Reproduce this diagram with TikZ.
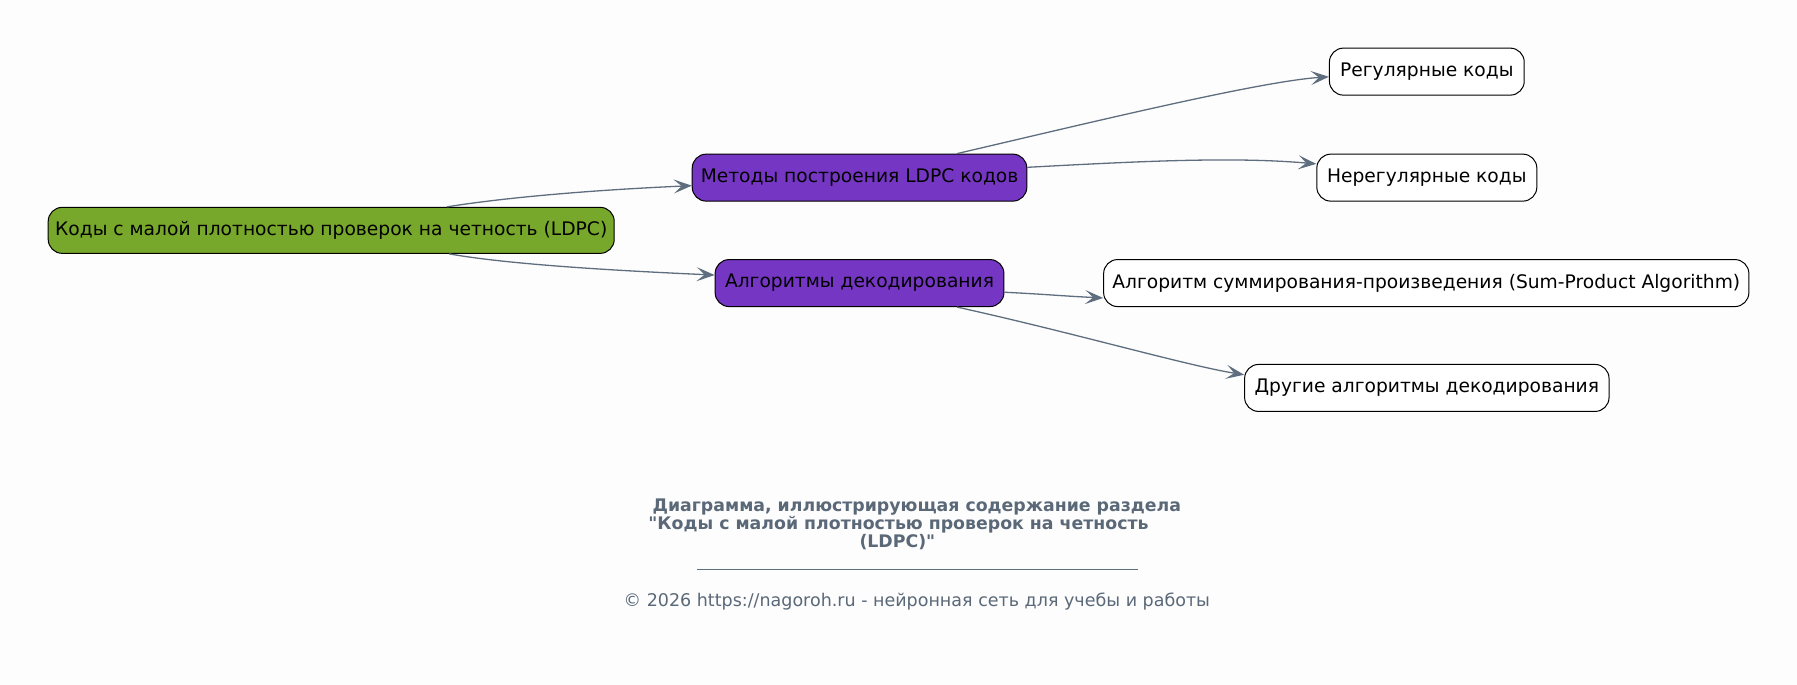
\documentclass[tikz,border=0pt]{standalone}
\usepackage{fontspec}
\setmainfont{DejaVu Sans}
\newfontfamily\capfont{DejaVu Sans}
\usetikzlibrary{arrows.meta,calc}
\definecolor{bgc}{HTML}{FDFDFD}
\definecolor{greenf}{HTML}{77A82B}
\definecolor{purplef}{HTML}{7636C4}
\definecolor{edgec}{HTML}{5F6E7E}
\definecolor{capc}{HTML}{5A6878}
\tikzset{
  box/.style={draw=black, line width=1pt, rounded corners=14pt, minimum height=47pt,
    inner sep=0pt, font=\fontsize{18.67}{22}\selectfont, text=black},
  rootbox/.style={box, fill=greenf},
  midbox/.style={box, fill=purplef},
  leafbox/.style={box, fill=white},
  conn/.style={draw=edgec, line width=1.3pt, -{Stealth[length=18pt,width=14pt,inset=8pt]}},
  captxt/.style={text=capc, font=\capfont\fontsize{17.33}{20}\selectfont\bfseries, inner sep=0pt},
  foottxt/.style={text=capc, font=\capfont\fontsize{17.5}{20}\selectfont, inner sep=0pt}
}
\begin{document}
\begin{tikzpicture}[x=1.146pt,y=-1.146pt]
\path[fill=bgc] (0,0) rectangle (1568,597.7);
\useasboundingbox (0,0) rectangle (1568,597.7);
\node[rootbox, minimum width=566pt, minimum height=46pt] (root) at (289,201) {Коды с малой плотностью проверок на четность (LDPC)};
\node[midbox, minimum width=334.6pt] (meth) at (750,155) {Методы построения LDPC кодов};
\node[midbox, minimum width=288.8pt] (alg) at (750,247) {Алгоритмы декодирования};
\node[leafbox, minimum width=194.8pt] (reg) at (1245,62.5) {Регулярные коды};
\node[leafbox, minimum width=220pt] (irr) at (1245,155) {Нерегулярные коды};
\node[leafbox, minimum width=645.2pt] (sum) at (1244.5,247) {Алгоритм суммирования-произведения (Sum-Product Algorithm)};
\node[leafbox, minimum width=364.4pt] (oth) at (1245,338.5) {Другие алгоритмы декодирования};

\draw[conn] ($(root.north)+(101,0)$) .. controls +(50,-8) and +(-90,4) .. ($(meth.west)+(0,7)$);
\draw[conn] ($(root.south)+(103,0)$) .. controls +(50,9) and +(-90,-4) .. ($(alg.west)+(0,-7)$);
\draw[conn] ($(meth.north)+(85,0)$) .. controls +(120,-28) and +(-60,4) .. ($(reg.west)+(0,4.5)$);
\draw[conn] ($(meth.east)+(0,-9)$) .. controls +(110,-6) and +(-70,-6) .. ($(irr.west)+(0,-12)$);
\draw[conn] ($(alg.east)+(0,8)$) .. controls +(40,2) and +(-40,-2) .. ($(sum.west)+(0,13)$);
\draw[conn] ($(alg.south)+(85,0)$) .. controls +(100,22) and +(-50,-8) .. ($(oth.west)+(0,-11.5)$);

\node[captxt] (cap1) at (800,442) {Диаграмма, иллюстрирующая содержание раздела};
\node[captxt] (cap2) at (784,458) {"Коды с малой плотностью проверок на четность};
\node[captxt] (cap3) at (783,473) {(LDPC)"};
\draw[edgec, line width=0.9pt] (608,497) -- (993,497);
\node[foottxt] (foot) at (800,525) {© 2026 https://nagoroh.ru - нейронная сеть для учебы и работы};
\end{tikzpicture}
\end{document}
